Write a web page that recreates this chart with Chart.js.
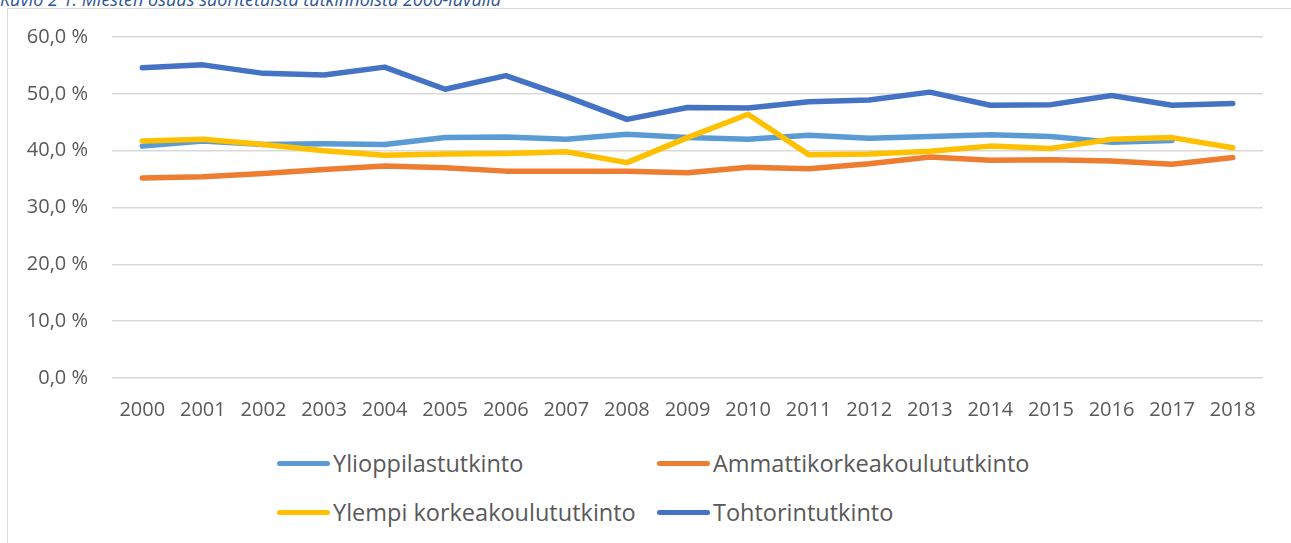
<!DOCTYPE html>
<html lang="fi">
<head>
<meta charset="utf-8">
<title>Miesten osuus suoritetuista tutkinnoista</title>
<script src="https://cdn.jsdelivr.net/npm/chart.js@4/dist/chart.umd.min.js"></script>
<style>
  html, body { margin: 0; padding: 0; background: #fff; overflow: hidden; }
  body { width: 1291px; height: 543px; position: relative; font-family: 'Open Sans', sans-serif; }
  #caption {
    position: absolute; left: 0; top: -13px; white-space: nowrap;
    font-style: italic; font-size: 18px; color: #2F5597;
  }
  #frame {
    position: absolute; left: 7px; top: 8px; width: 1400px; height: 700px;
    border: 1px solid #D9D9D9; box-sizing: border-box;
  }
  #wrap { position: absolute; left: 0; top: 0; width: 1291px; height: 430px; }
  #legend { position: absolute; left: 0; top: 0; }
  .item { position: absolute; display: flex; align-items: center; font-size: 23.5px; color: #595959; white-space: nowrap; }
  .swatch { width: 53px; height: 5px; border-radius: 3px; margin-right: 3px; }
</style>
</head>
<body>
<div id="frame"></div>
<div id="caption">Kuvio 2 1: Miesten osuus suoritetuista tutkinnoista 2000-luvulla</div>
<div id="wrap"><canvas id="chart"></canvas></div>
<div id="legend"></div>
<script>
// Data (percent)
const years = ['2000', '2001', '2002', '2003', '2004', '2005', '2006', '2007', '2008', '2009',
               '2010', '2011', '2012', '2013', '2014', '2015', '2016', '2017', '2018'];

const ylioppilas = [40.8, 41.7, 41.1, 41.2, 41.1, 42.3, 42.4, 42.0, 42.9, 42.3,
                    42.0, 42.7, 42.2, 42.5, 42.8, 42.5, 41.5, 41.8, null];
const ammatti    = [35.2, 35.4, 36.0, 36.7, 37.3, 37.0, 36.4, 36.4, 36.4, 36.1,
                    37.1, 36.8, 37.7, 38.9, 38.3, 38.4, 38.2, 37.6, 38.8];
const ylempi     = [41.7, 42.0, 41.1, 40.0, 39.2, 39.4, 39.5, 39.8, 37.9, 42.3,
                    46.4, 39.3, 39.4, 39.9, 40.8, 40.4, 42.0, 42.3, 40.5];
const tohtori    = [54.6, 55.1, 53.6, 53.3, 54.7, 50.8, 53.2, 49.5, 45.5, 47.6,
                    47.5, 48.6, 48.9, 50.3, 48.0, 48.1, 49.7, 48.0, 48.3];

const seriesNames = ['Ylioppilastutkinto', 'Ammattikorkeakoulututkinto',
                     'Ylempi korkeakoulututkinto', 'Tohtorintutkinto'];
const seriesData  = [ylioppilas, ammatti, ylempi, tohtori];
const seriesColors = ['#5B9BD5', '#ED7D31', '#FFC000', '#4472C4'];

const yTicks = [0, 10, 20, 30, 40, 50, 60];

const TEXT = '#595959';
const GRID = '#D9D9D9';

const datasets = seriesNames.map((name, i) => ({
  label:           name,
  data:            seriesData[i],
  borderColor:     seriesColors[i],
  backgroundColor: seriesColors[i],
  borderWidth:     5.5,
  borderCapStyle:  'round',
  borderJoinStyle: 'round',
  pointRadius:     0,
  tension:         0,
  spanGaps:        false,
  order:           seriesNames.length - i,   // later series drawn on top, like Excel
}));

new Chart(document.getElementById('chart'), {
  type: 'line',
  data: { labels: years, datasets },
  options: {
    responsive:          true,
    maintainAspectRatio: false,
    animation:           false,
    layout: { padding: { left: 0, right: 28, top: 37, bottom: 0 } },
    plugins: {
      legend:  { display: false },
      tooltip: { enabled: false },
    },
    scales: {
      x: {
        offset: true,
        grid:   { display: false, drawTicks: false },
        border: { display: false },
        ticks:  { color: TEXT, font: { family: "'Open Sans', sans-serif", size: 20 }, padding: 20, maxRotation: 0, autoSkip: false },
        afterFit(scale) { scale.height = 52; },
      },
      y: {
        min: 0,
        max: 60,
        afterBuildTicks(scale) { scale.ticks = yTicks.map(v => ({ value: v })); },
        grid:   { color: GRID, lineWidth: 1.5, drawTicks: false },
        border: { display: false },
        ticks:  {
          color: TEXT,
          font: { family: "'Open Sans', sans-serif", size: 20 },
          padding: 24,
          callback: v => v.toFixed(1).replace('.', ',') + ' %',
        },
        afterFit(scale) { scale.width = 112; },
      },
    },
  },
});

// Legend laid out in two fixed columns, as in the reference
const legend = document.getElementById('legend');
const legendPos = [
  { left: 277, top: 463 }, { left: 657, top: 463 },
  { left: 277, top: 512 }, { left: 657, top: 512 },
];
seriesNames.forEach((name, i) => {
  const item = document.createElement('div');
  item.className = 'item';
  item.style.left = legendPos[i].left + 'px';
  item.style.top  = (legendPos[i].top - 16) + 'px';
  item.style.height = '32px';
  const sw = document.createElement('span');
  sw.className = 'swatch';
  sw.style.background = seriesColors[i];
  const tx = document.createElement('span');
  tx.textContent = name;
  item.appendChild(sw);
  item.appendChild(tx);
  legend.appendChild(item);
});
</script>
</body>
</html>
